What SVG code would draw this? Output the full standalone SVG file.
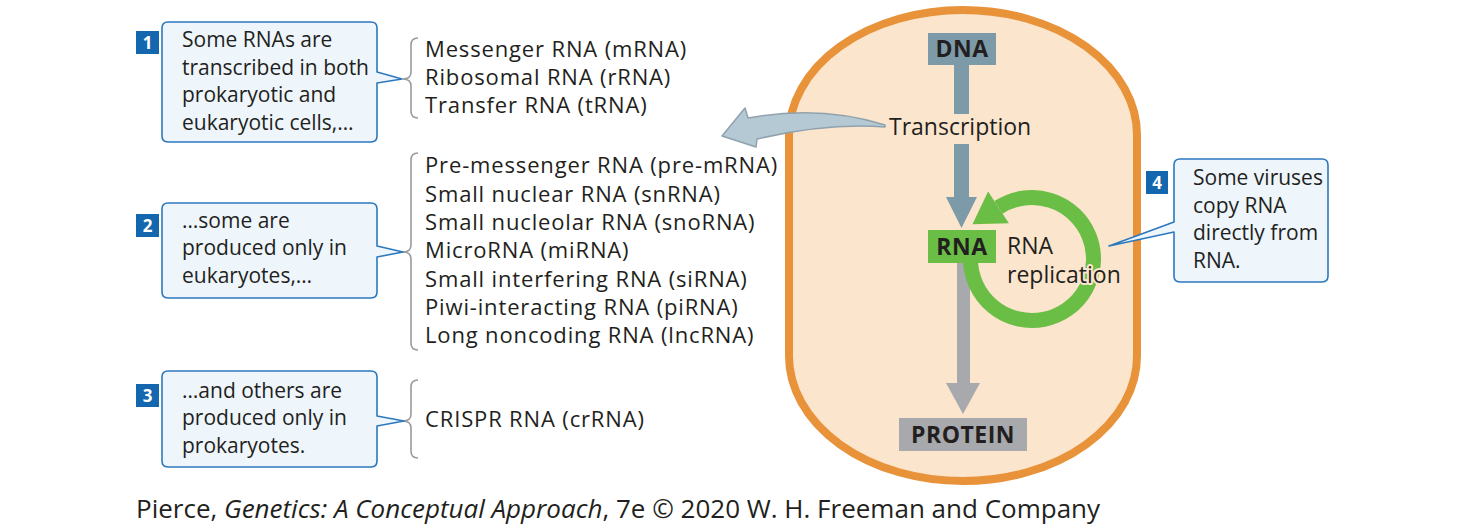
<svg xmlns="http://www.w3.org/2000/svg" width="1464" height="530" viewBox="0 0 1464 530">
<style>
  text { font-family: "Open Sans", "Noto Sans", sans-serif; fill: #231F20; }
  .co { font-size: 21px; }
  .li { font-size: 22px; letter-spacing: 0.85px; }
  .lbl { font-size: 23px; font-weight: bold; text-anchor: middle; letter-spacing: 0.5px; }
  .num { font-size: 17px; font-weight: bold; fill: #FFFFFF; text-anchor: middle; }
  .callout { fill: #EEF6FC; stroke: #2B78BE; stroke-width: 1.6; stroke-linejoin: round; }
  .badge { fill: #1467AE; }
  .brace { fill: none; stroke: #9A9A9A; stroke-width: 1.6; }
  .halo { stroke: #FBE5CD; stroke-width: 4; paint-order: stroke; stroke-linejoin: round; }
</style>

<g id="cell">
  <rect x="789" y="10" width="348" height="471" rx="174" ry="125" fill="#FBE5CD" stroke="#E8923A" stroke-width="8"/>
</g>

<g id="connectors">
  <!-- DNA to transcription stem -->
  <rect x="954" y="64" width="15" height="50" fill="#7D9AA9"/>
  <!-- transcription to RNA arrow -->
  <rect x="954" y="144" width="15" height="54" fill="#7D9AA9"/>
  <polygon points="946,197 977,197 961.5,228" fill="#7D9AA9"/>
  <!-- RNA to protein arrow -->
  <rect x="957" y="262" width="13" height="122" fill="#A7A9AC"/>
  <polygon points="946,383 980,383 963,414" fill="#A7A9AC"/>
  <!-- RNA replication ring -->
  <path d="M 970.5 259 A 61.5 61.5 0 1 0 998.5 207.4" fill="none" stroke="#6ABD45" stroke-width="15"/>
  <polygon points="972.5,224.3 988.1,191.5 1008.9,223.3" fill="#6ABD45"/>
  <!-- transcription curved arrow to RNA list -->
  <path d="M 885 125 C 840 111 792 110 748 118 L 745 108 L 722 136 L 756 147 L 757 139 C 800 129 845 124 885 127 Z" fill="#B5C9D4" stroke="#8FA2AD" stroke-width="1.5" stroke-linejoin="round"/>
  <!-- braces -->
  <path class="brace" d="M 418 38 Q 411 38 411 45 L 411 72 Q 411 79 403 79 Q 411 79 411 86 L 411 111 Q 411 118 418 118"/>
  <path class="brace" d="M 418 153 Q 411 153 411 160 L 411 245 Q 411 252 403 252 Q 411 252 411 259 L 411 343 Q 411 350 418 350"/>
  <path class="brace" d="M 418 380 Q 411 380 411 387 L 411 414 Q 411 421 403 421 Q 411 421 411 428 L 411 451 Q 411 458 418 458"/>
</g>

<g id="dna">
  <rect x="928" y="33" width="68" height="32" fill="#7D9AA9"/>
  <text class="lbl" x="962" y="57">DNA</text>
</g>

<g id="transcription">
  <text x="889" y="135" font-size="23px">Transcription</text>
</g>

<g id="rna">
  <rect x="928" y="230" width="68" height="33" fill="#6ABD45"/>
  <text class="lbl" x="962" y="255">RNA</text>
</g>

<g id="rna-replication">
  <text class="halo" x="1007" y="254" font-size="23px">RNA</text>
  <text class="halo" x="1007" y="283" font-size="23px">replication</text>
</g>

<g id="protein">
  <rect x="899" y="418" width="128" height="33" fill="#A7A9AC"/>
  <text class="lbl" x="963" y="443" letter-spacing="1.2px">PROTEIN</text>
</g>

<g id="callout1">
  <path class="callout" d="M 168 22 H 371 Q 377 22 377 28 V 72 L 402 79 L 377 83 V 136 Q 377 142 371 142 H 168 Q 162 142 162 136 V 28 Q 162 22 168 22 Z"/>
  <rect class="badge" x="136" y="31" width="23" height="23"/>
  <text class="num" x="147.5" y="49">1</text>
  <text class="co" x="182" y="47">Some RNAs are</text>
  <text class="co" x="182" y="75">transcribed in both</text>
  <text class="co" x="182" y="102">prokaryotic and</text>
  <text class="co" x="182" y="130">eukaryotic cells,…</text>
</g>

<g id="callout2">
  <path class="callout" d="M 168 203 H 371 Q 377 203 377 209 V 246 L 403 252 L 377 257 V 292 Q 377 298 371 298 H 168 Q 162 298 162 292 V 209 Q 162 203 168 203 Z"/>
  <rect class="badge" x="136" y="214" width="23" height="23"/>
  <text class="num" x="147.5" y="232">2</text>
  <text class="co" x="182" y="228">…some are</text>
  <text class="co" x="182" y="255">produced only in</text>
  <text class="co" x="182" y="283">eukaryotes,…</text>
</g>

<g id="callout3">
  <path class="callout" d="M 168 371 H 371 Q 377 371 377 377 V 416 L 404 421 L 377 426 V 461 Q 377 467 371 467 H 168 Q 162 467 162 461 V 377 Q 162 371 168 371 Z"/>
  <rect class="badge" x="136" y="384" width="23" height="23"/>
  <text class="num" x="147.5" y="402">3</text>
  <text class="co" x="182" y="398">…and others are</text>
  <text class="co" x="182" y="425">produced only in</text>
  <text class="co" x="182" y="453">prokaryotes.</text>
</g>

<g id="callout4">
  <path class="callout" d="M 1180 159 H 1322 Q 1328 159 1328 165 V 276 Q 1328 282 1322 282 H 1180 Q 1174 282 1174 276 V 232 L 1109 246 L 1174 222 V 165 Q 1174 159 1180 159 Z"/>
  <rect class="badge" x="1146" y="171" width="22" height="23"/>
  <text class="num" x="1157" y="189">4</text>
  <text class="co" x="1193" y="185">Some viruses</text>
  <text class="co" x="1193" y="213">copy RNA</text>
  <text class="co" x="1193" y="240">directly from</text>
  <text class="co" x="1193" y="268">RNA.</text>
</g>

<g id="list-both">
  <text class="li" x="425" y="57">Messenger RNA (mRNA)</text>
  <text class="li" x="425" y="85">Ribosomal RNA (rRNA)</text>
  <text class="li" x="425" y="113">Transfer RNA (tRNA)</text>
</g>

<g id="list-eukaryotes">
  <text class="li" x="425" y="173">Pre-messenger RNA (pre-mRNA)</text>
  <text class="li" x="425" y="201.5">Small nuclear RNA (snRNA)</text>
  <text class="li" x="425" y="230">Small nucleolar RNA (snoRNA)</text>
  <text class="li" x="425" y="258">MicroRNA (miRNA)</text>
  <text class="li" x="425" y="286.5">Small interfering RNA (siRNA)</text>
  <text class="li" x="425" y="315">Piwi-interacting RNA (piRNA)</text>
  <text class="li" x="425" y="343">Long noncoding RNA (lncRNA)</text>
</g>

<g id="list-prokaryotes">
  <text class="li" x="425" y="427">CRISPR RNA (crRNA)</text>
</g>

<g id="footer">
  <text x="136" y="518" font-size="26px">Pierce, <tspan font-style="italic">Genetics: A Conceptual Approach</tspan>, 7e © 2020 W. H. Freeman and Company</text>
</g>
</svg>
